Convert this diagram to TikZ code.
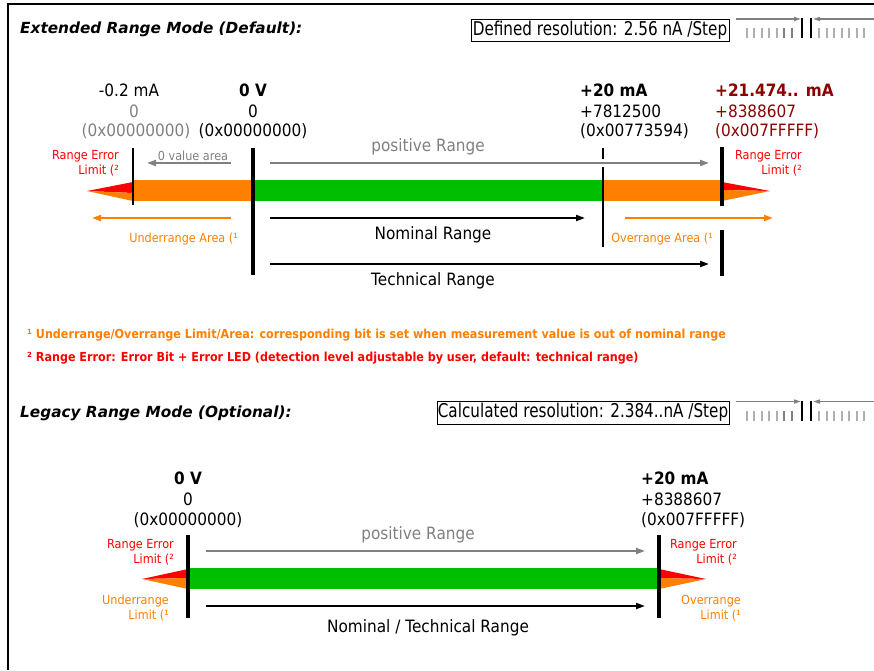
\documentclass[tikz,border=0pt]{standalone}
\usepackage{fontspec}
\setmainfont{DejaVu Sans}[FakeStretch=0.9]
\newfontfamily\headfont{DejaVu Sans}
\newfontfamily\boxfont{DejaVu Sans}[FakeStretch=0.8]
\usetikzlibrary{arrows.meta}
\definecolor{rangeorange}{RGB}{255,128,0}
\definecolor{rangegreen}{RGB}{0,190,0}
\definecolor{rangered}{RGB}{255,0,0}
\definecolor{limitred}{RGB}{140,0,0}
\definecolor{areagray}{RGB}{128,128,128}
\definecolor{gaugegray}{RGB}{175,175,175}
\tikzset{
  lbl/.style={inner sep=0pt,font=\fontsize{17}{17}\selectfont},
  lblbold/.style={inner sep=0pt,font=\fontsize{17}{17}\selectfont\bfseries},
  note/.style={inner sep=0pt,align=right,anchor=east,font=\fontsize{12.5}{15}\selectfont},
  foot/.style={inner sep=0pt,anchor=west,font=\fontsize{12.4}{12}\selectfont\bfseries},
  heading/.style={inner sep=0pt,anchor=west,font=\headfont\fontsize{15.3}{16}\selectfont\bfseries\itshape},
  resbox/.style={draw,line width=1pt,inner sep=0pt,minimum height=22pt,font=\boxfont\fontsize{19}{19}\selectfont},
  thickbar/.style={line width=4pt},
  thinbar/.style={line width=2pt},
  rangearrow/.style={line width=2pt,-{Triangle[length=9pt,width=6pt]}},
}
\newcommand\stepgauge[1]{%
  \begin{scope}[shift={(0,#1)}]
    \draw[areagray,line width=1.5pt,-{Triangle[length=7pt,width=4pt]}] (736,0) -- (801,0);
    \draw[areagray,line width=1.5pt,-{Triangle[length=7pt,width=4pt]}] (874,0) -- (813,0);
    \foreach \x in {747,754,762,769,777,819,827,834,842,849,857,864}
      \draw[gaugegray,line width=1.5pt] (\x,9) -- (\x,19);
    \foreach \x in {784,792}
      \draw[areagray,line width=1.5pt] (\x,9) -- (\x,19);
    \draw[line width=2.5pt] (802,-1) -- (802,19) (811,-1) -- (811,19);
  \end{scope}}

\begin{document}
\begin{tikzpicture}[x=1pt,y=-1pt]
\useasboundingbox (0,0) rectangle (874,670);
\draw[line width=2pt] (8,670) -- (8,4) -- (874,4);

% extended range mode
\node[heading] (exttitle) at (20,29) {Extended Range Mode (Default):};
\node[resbox,minimum width=258pt] (extres) at (600,30) {Defined resolution: 2.56 nA /Step};
\stepgauge{19}

\node[lbl] (lowma) at (129,90) {-0.2 mA};
\node[lbl,text=areagray] (lowdec) at (134,111) {0};
\node[lbl,text=areagray] (lowhex) at (136,131) {(0x00000000)};
\node[lblbold] (zeroma) at (253,90) {0 V};
\node[lbl] (zerodec) at (253,111) {0};
\node[lbl] (zerohex) at (253,131) {(0x00000000)};
\node[lblbold,anchor=west] (nomma) at (580,90) {+20 mA};
\node[lbl,anchor=west] (nomdec) at (580,111) {+7812500};
\node[lbl,anchor=west] (nomhex) at (580,131) {(0x00773594)};
\node[lblbold,anchor=west,text=limitred] (maxma) at (715,90) {+21.474.. mA};
\node[lbl,anchor=west,text=limitred] (maxdec) at (715,111) {+8388607};
\node[lbl,anchor=west,text=limitred] (maxhex) at (715,131) {(0x007FFFFF)};

\fill[rangeorange] (133,180) rectangle (722,201);
\fill[rangegreen] (253,180) rectangle (603,201);
\fill[rangered] (87,191) -- (133,182) -- (133,193) -- cycle;
\fill[rangeorange] (87,191) -- (133,193) -- (133,201) -- cycle;
\fill[rangered] (770,191) -- (722,182) -- (722,190) -- cycle;
\fill[rangeorange] (770,191) -- (722,190) -- (722,201) -- cycle;

\draw[thinbar] (133,148) -- (133,205);
\draw[thickbar] (253,148) -- (253,275);
\draw[thinbar] (603,148) -- (603,159) (603,167) -- (603,247);
\draw[thickbar] (722,147) -- (722,206) (722,230) -- (722,276);

\node[note,text=rangered] (errlow) at (119,163.5) {Range Error\\Limit (²};
\node[note,text=rangered] (errhigh) at (802,163.5) {Range Error\\Limit (²};

\coordinate (zerofrom) at (231,163);
\coordinate (zeroto) at (147,163);
\draw[rangearrow,areagray] (zerofrom) -- (zeroto);
\node[note,anchor=center,text=areagray] (zeroarea) at (193,156) {0 value area};

\coordinate (posfrom) at (270,163);
\coordinate (posto) at (709,163);
\draw[rangearrow,areagray] (posfrom) -- (posto);
\node[lbl,text=areagray] (posrange) at (428,147) {positive Range};

\coordinate (underfrom) at (231,218);
\coordinate (underto) at (92,218);
\draw[rangearrow,rangeorange] (underfrom) -- (underto);
\node[note,text=rangeorange] (underarea) at (238,239) {Underrange Area (¹};

\coordinate (nomfrom) at (270,218);
\coordinate (nomto) at (585,218);
\draw[rangearrow] (nomfrom) -- (nomto);
\node[lbl] (nomrange) at (433,235) {Nominal Range};

\coordinate (overfrom) at (625,218);
\coordinate (overto) at (773,218);
\draw[rangearrow,rangeorange] (overfrom) -- (overto);
\node[note,text=rangeorange] (overarea) at (713,239) {Overrange Area (¹};

\coordinate (techfrom) at (270,264);
\coordinate (techto) at (709,264);
\draw[rangearrow] (techfrom) -- (techto);
\node[lbl] (techrange) at (433,281) {Technical Range};

\node[foot,text=rangeorange] (foot1) at (27,335) {¹ Underrange/Overrange Limit/Area: corresponding bit is set when measurement value is out of nominal range};
\node[foot,text=rangered] (foot2) at (27,358) {² Range Error: Error Bit + Error LED (detection level adjustable by user, default: technical range)};

% legacy range mode
\node[heading] (legtitle) at (20,413) {Legacy Range Mode (Optional):};
\node[resbox,minimum width=292pt,minimum height=23pt] (legres) at (583,412.5) {Calculated resolution: 2.384..nA /Step};
\stepgauge{401.5}

\node[lblbold] (legzeroma) at (188,478) {0 V};
\node[lbl] (legzerodec) at (188,499) {0};
\node[lbl] (legzerohex) at (188,520) {(0x00000000)};
\node[lblbold,anchor=west] (legnomma) at (641,478) {+20 mA};
\node[lbl,anchor=west] (legnomdec) at (641,499) {+8388607};
\node[lbl,anchor=west] (legnomhex) at (641,520) {(0x007FFFFF)};

\fill[rangegreen] (188,568) rectangle (659,589);
\fill[rangered] (142,579) -- (188,569) -- (188,578) -- cycle;
\fill[rangeorange] (142,579) -- (188,578) -- (188,589) -- cycle;
\fill[rangered] (706,579) -- (659,569) -- (659,578) -- cycle;
\fill[rangeorange] (706,579) -- (659,578) -- (659,589) -- cycle;

\draw[thickbar] (188,535) -- (188,618);
\draw[thickbar] (659,535) -- (659,618);

\node[note,text=rangered] (legerrlow) at (174,552) {Range Error\\Limit (²};
\node[note,text=rangered] (legerrhigh) at (737,552) {Range Error\\Limit (²};
\node[note,text=rangeorange] (legunder) at (169,608) {Underrange\\Limit (¹};
\node[note,text=rangeorange] (legover) at (741,608) {Overrange\\Limit (¹};

\coordinate (legposfrom) at (206,551);
\coordinate (legposto) at (645,551);
\draw[rangearrow,areagray] (legposfrom) -- (legposto);
\node[lbl,text=areagray] (legposrange) at (418,535) {positive Range};

\coordinate (legnomfrom) at (206,606);
\coordinate (legnomto) at (645,606);
\draw[rangearrow] (legnomfrom) -- (legnomto);
\node[lbl] (legnomrange) at (428,628) {Nominal / Technical Range};
\end{tikzpicture}
\end{document}
